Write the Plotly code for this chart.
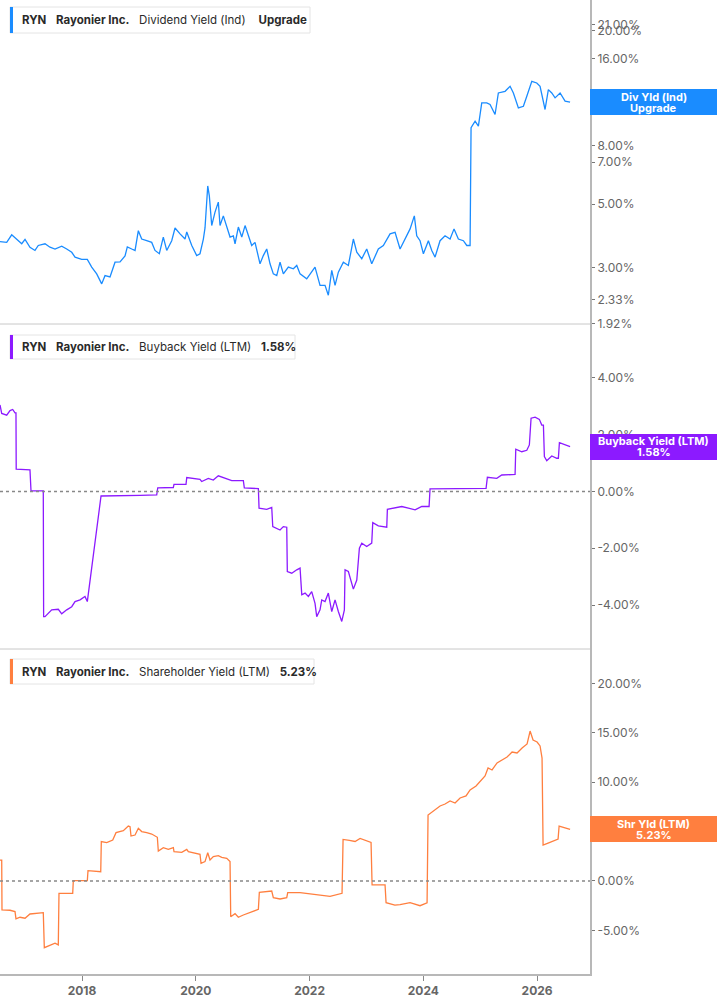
import math
import plotly.graph_objects as go

# ---------------- DATA ----------------
div_year = [2016.558, 2016.676, 2016.764, 2016.852, 2016.940, 2016.998, 2017.085, 2017.173, 2017.231, 2017.349,
            2017.437, 2017.525, 2017.643, 2017.731, 2017.819, 2017.877, 2017.994, 2018.093, 2018.170, 2018.258,
            2018.346, 2018.404, 2018.492, 2018.580, 2018.668, 2018.756, 2018.796, 2018.874, 2018.932, 2018.990,
            2019.049, 2019.137, 2019.225, 2019.283, 2019.359, 2019.429, 2019.489, 2019.577, 2019.635, 2019.723,
            2019.811, 2019.841, 2019.929, 2020.016, 2020.074, 2020.133, 2020.162, 2020.210, 2020.238, 2020.280,
            2020.338, 2020.396, 2020.426, 2020.484, 2020.544, 2020.602, 2020.660, 2020.690, 2020.748, 2020.808,
            2020.866, 2020.924, 2020.983, 2021.041, 2021.129, 2021.187, 2021.247, 2021.305, 2021.363, 2021.423,
            2021.481, 2021.539, 2021.627, 2021.715, 2021.775, 2021.833, 2021.950, 2022.096, 2022.184, 2022.272,
            2022.330, 2022.390, 2022.448, 2022.506, 2022.594, 2022.682, 2022.770, 2022.830, 2022.918, 2023.005,
            2023.093, 2023.209, 2023.297, 2023.415, 2023.503, 2023.591, 2023.679, 2023.767, 2023.842, 2023.884,
            2023.942, 2024.001, 2024.089, 2024.148, 2024.206, 2024.294, 2024.382, 2024.470, 2024.540, 2024.616,
            2024.704, 2024.764, 2024.822, 2024.839, 2024.910, 2024.968, 2025.027, 2025.115, 2025.173, 2025.261,
            2025.319, 2025.437, 2025.525, 2025.583, 2025.671, 2025.759, 2025.819, 2025.907, 2025.994, 2026.052,
            2026.140, 2026.198, 2026.258, 2026.316, 2026.404, 2026.492, 2026.580]
div_yield = [3.70, 3.68, 3.91, 3.78, 3.64, 3.77, 3.54, 3.45, 3.59, 3.64,
             3.54, 3.49, 3.57, 3.49, 3.40, 3.27, 3.21, 3.21, 3.02, 2.86,
             2.64, 2.82, 2.79, 3.14, 3.15, 3.30, 3.55, 3.49, 3.45, 4.04,
             3.78, 3.73, 3.68, 3.45, 3.36, 3.84, 3.45, 3.73, 4.13, 3.94,
             3.78, 4.00, 3.59, 3.31, 3.36, 3.78, 4.13, 5.78, 5.34, 4.21,
             4.69, 5.08, 4.21, 4.55, 4.21, 3.84, 3.88, 3.64, 4.16, 3.84,
             4.21, 3.88, 3.59, 3.68, 3.10, 3.31, 3.49, 3.10, 2.86, 2.82,
             3.14, 2.86, 3.02, 2.98, 3.06, 2.86, 2.75, 3.02, 2.61, 2.61,
             2.41, 2.94, 2.61, 2.90, 3.14, 3.06, 3.78, 3.40, 3.23, 3.49,
             3.10, 3.49, 3.59, 3.94, 3.99, 3.49, 3.78, 4.10, 4.55, 3.88,
             3.73, 3.36, 3.73, 3.45, 3.27, 3.73, 3.88, 3.78, 4.10, 3.78,
             3.73, 3.59, 3.59, 9.21, 9.71, 9.33, 11.24, 11.24, 11.09, 10.24,
             12.17, 12.33, 12.83, 12.17, 10.80, 10.94, 11.85, 13.36, 13.18, 12.83,
             10.66, 12.50, 12.17, 11.70, 12.17, 11.39, 11.30]

bb_year = [2016.558, 2016.588, 2016.676, 2016.734, 2016.781, 2016.822, 2016.839, 2016.843, 2017.085, 2017.103,
           2017.319, 2017.325, 2017.349, 2017.467, 2017.583, 2017.643, 2017.731, 2017.819, 2017.877, 2017.965,
           2018.052, 2018.093, 2018.334, 2018.610, 2019.020, 2019.313, 2019.331, 2019.605, 2019.617, 2019.828,
           2019.841, 2020.074, 2020.104, 2020.220, 2020.308, 2020.396, 2020.544, 2020.632, 2020.836, 2020.853,
           2021.100, 2021.112, 2021.247, 2021.335, 2021.353, 2021.481, 2021.539, 2021.599, 2021.609, 2021.687,
           2021.775, 2021.833, 2021.863, 2021.921, 2021.979, 2022.038, 2022.096, 2022.126, 2022.184, 2022.214,
           2022.272, 2022.330, 2022.390, 2022.448, 2022.506, 2022.566, 2022.612, 2022.624, 2022.682, 2022.770,
           2022.830, 2022.876, 2022.918, 2023.005, 2023.093, 2023.111, 2023.209, 2023.357, 2023.368, 2023.473,
           2023.621, 2023.737, 2023.855, 2023.972, 2024.101, 2024.118, 2024.470, 2025.103, 2025.126, 2025.291,
           2025.379, 2025.525, 2025.613, 2025.625, 2025.731, 2025.819, 2025.864, 2025.894, 2025.965, 2026.040,
           2026.082, 2026.111, 2026.128, 2026.170, 2026.258, 2026.346, 2026.374, 2026.392, 2026.492, 2026.580]
bb_yield = [3.05, 2.75, 2.69, 2.85, 2.89, 2.77, 2.77, 0.79, 0.76, 0.02,
            0.02, -4.41, -4.41, -4.17, -4.15, -4.31, -4.17, -4.06, -3.88, -3.82,
            -3.70, -3.88, -0.16, -0.16, -0.14, -0.12, 0.13, 0.14, 0.25, 0.25,
            0.49, 0.43, 0.35, 0.46, 0.40, 0.55, 0.46, 0.38, 0.38, 0.13,
            0.10, -0.59, -0.63, -0.56, -1.24, -1.36, -1.24, -1.26, -2.82, -2.88,
            -2.76, -2.70, -3.64, -3.58, -3.70, -3.53, -3.94, -4.41, -4.17, -3.82,
            -3.88, -3.58, -4.23, -3.82, -4.23, -4.58, -4.17, -2.76, -2.82, -3.44,
            -3.12, -2.00, -1.82, -1.94, -1.82, -1.10, -1.21, -1.26, -0.63, -0.59,
            -0.53, -0.59, -0.65, -0.53, -0.53, 0.09, 0.09, 0.11, 0.50, 0.46,
            0.58, 0.60, 0.60, 1.49, 1.40, 1.45, 1.64, 2.58, 2.62, 2.54,
            2.34, 2.34, 1.23, 1.08, 1.25, 1.17, 1.17, 1.72, 1.64, 1.58]

sh_year = [2016.558, 2016.588, 2016.593, 2016.734, 2016.822, 2016.839, 2016.910, 2016.998, 2017.085, 2017.203,
           2017.319, 2017.337, 2017.437, 2017.525, 2017.583, 2017.595, 2017.836, 2017.847, 2018.093, 2018.105,
           2018.329, 2018.339, 2018.434, 2018.540, 2018.598, 2018.726, 2018.814, 2018.844, 2018.861, 2018.932,
           2018.990, 2019.049, 2019.137, 2019.225, 2019.324, 2019.341, 2019.429, 2019.517, 2019.605, 2019.617,
           2019.753, 2019.841, 2019.869, 2019.957, 2020.074, 2020.092, 2020.162, 2020.210, 2020.250, 2020.308,
           2020.396, 2020.456, 2020.544, 2020.602, 2020.614, 2020.690, 2020.748, 2020.836, 2020.954, 2021.100,
           2021.117, 2021.335, 2021.363, 2021.481, 2021.599, 2021.616, 2021.833, 2022.100, 2022.360, 2022.571,
           2022.589, 2022.700, 2022.800, 2022.888, 2023.081, 2023.099, 2023.327, 2023.345, 2023.500, 2023.591,
           2023.767, 2023.942, 2024.066,
           2024.083, 2024.154, 2024.224, 2024.294, 2024.382, 2024.470, 2024.558, 2024.646, 2024.751, 2024.822,
           2024.927, 2024.998, 2025.085, 2025.138, 2025.208, 2025.296, 2025.384, 2025.472, 2025.560, 2025.648,
           2025.736, 2025.824, 2025.877, 2025.929, 2026.000, 2026.052, 2026.087, 2026.105, 2026.193, 2026.316,
           2026.369, 2026.387, 2026.492, 2026.580]
sh_yield = [2.12, 2.12, -2.93, -2.96, -3.10, -3.84, -3.67, -3.77, -3.34, -3.30,
            -3.20, -6.75, -6.47, -6.30, -6.47, -1.25, -1.25, 0.03, 0.03, 1.04,
            0.94, 3.98, 3.88, 4.15, 4.89, 5.09, 5.56, 5.50, 4.55, 4.65,
            5.33, 5.00, 4.89, 4.75, 4.42, 3.03, 3.37, 3.20, 3.37, 2.96,
            2.90, 3.20, 2.96, 2.86, 2.70, 1.79, 1.96, 2.86, 2.12, 2.46,
            2.56, 2.39, 2.29, 1.96, -3.61, -3.30, -3.67, -3.44, -3.20, -2.87,
            -1.15, -1.02, -1.69, -1.82, -1.69, -1.18, -1.18, -1.35, -1.55, -1.25,
            4.20, 4.10, 4.00, 4.30, 3.90, -0.40, -0.40, -2.20, -2.45, -2.40,
            -2.20, -2.50, -2.20,
            6.68, 6.98, 7.28, 7.59, 7.79, 8.09, 7.89, 8.40, 8.60, 9.21,
            9.61, 10.02, 10.62, 11.43, 11.23, 11.94, 12.24, 12.54, 13.05, 12.95,
            13.45, 13.86, 15.17, 14.26, 14.06, 13.66, 12.44, 3.64, 3.84, 4.15,
            4.25, 5.56, 5.36, 5.23]

assert len(div_year) == len(div_yield), (len(div_year), len(div_yield))
assert len(bb_year) == len(bb_yield), (len(bb_year), len(bb_yield))
assert len(sh_year) == len(sh_yield), (len(sh_year), len(sh_yield))

x_ticks = [2018, 2020, 2022, 2024, 2026]
div_ticks = [1.92, 2.33, 3, 5, 7, 8, 12, 16, 20, 21]
bb_ticks = [-4, -2, 0, 2, 4]
sh_ticks = [-5, 0, 5, 10, 15, 20]

BLUE = "#1a8cff"
PURPLE = "#8c1aff"
ORANGE = "#ff7f3f"

# ---------------- LAYOUT ----------------
W, HTOT = 717, 1005
ML, MR, MT, MB = 0, 127, 0, 31
PW = W - ML - MR          # 590
PH = HTOT - MT - MB       # 974


def py(px):
    return 1 - px / PH


def pxx(px):
    return px / PW


FONT = "Inter, Roboto, 'Open Sans', sans-serif"
NB = "\u00a0"

fig = go.Figure()
fig.add_trace(go.Scatter(x=div_year, y=div_yield, mode="lines", line=dict(color=BLUE, width=1.3),
                         xaxis="x", yaxis="y", hoverinfo="skip", showlegend=False))
fig.add_trace(go.Scatter(x=bb_year, y=bb_yield, mode="lines", line=dict(color=PURPLE, width=1.3),
                         xaxis="x2", yaxis="y2", hoverinfo="skip", showlegend=False))
fig.add_trace(go.Scatter(x=sh_year, y=sh_yield, mode="lines", line=dict(color=ORANGE, width=1.3),
                         xaxis="x3", yaxis="y3", hoverinfo="skip", showlegend=False))

xr = [2016.558, 2026.93]
yaxis_common = dict(side="right", showline=True, linecolor="#b8b8b8", linewidth=2, ticks="outside",
                    ticklen=3, tickcolor="#777", tickwidth=1, showgrid=False, zeroline=False,
                    tickfont=dict(size=12, color="#666", family=FONT), fixedrange=True)

fig.update_layout(
    width=W, height=HTOT, margin=dict(l=ML, r=MR, t=MT, b=MB, pad=0),
    paper_bgcolor="white", plot_bgcolor="white", font=dict(family=FONT),
    xaxis=dict(anchor="y", domain=[0, 1], range=xr, visible=False, matches="x3"),
    xaxis2=dict(anchor="y2", domain=[0, 1], range=xr, visible=False, matches="x3"),
    xaxis3=dict(anchor="y3", domain=[0, 1], range=xr, showline=True, linecolor="#b8b8b8", linewidth=2,
                ticks="outside", ticklen=5, tickcolor="#888", showgrid=False, zeroline=False,
                tickvals=x_ticks, ticktext=["<b>%d</b>" % t for t in x_ticks],
                tickfont=dict(size=12, color="#666", family=FONT)),
    yaxis=dict(anchor="x", domain=[py(324), 1], type="log",
               range=[math.log10(1.915), 1.4083],
               tickvals=div_ticks, ticktext=["%.2f%%" % v for v in div_ticks], **yaxis_common),
    yaxis2=dict(anchor="x2", domain=[py(649), py(324)], range=[-5.55, 5.90],
                tickvals=bb_ticks, ticktext=["%.2f%%" % v for v in bb_ticks], **yaxis_common),
    yaxis3=dict(anchor="x3", domain=[0, py(649)], range=[-9.41, 23.47],
                tickvals=sh_ticks, ticktext=["%.2f%%" % v for v in sh_ticks], **yaxis_common),
)

shapes = []
# panel separators
for sep in (324, 649):
    shapes.append(dict(type="line", xref="paper", yref="paper", x0=0, x1=1, y0=py(sep), y1=py(sep),
                       line=dict(color="#c8c8c8", width=1)))
# zero lines
for yr in ("y2", "y3"):
    shapes.append(dict(type="line", xref="paper", yref=yr, x0=0, x1=1, y0=0, y1=0,
                       line=dict(color="#888", width=1.5, dash="dot")))

SP = NB * 3
legends = [
    ("<b>RYN</b>" + SP + "<b>Rayonier Inc.</b>" + SP + "Dividend Yield (Ind)" + SP + NB + "<b>Upgrade</b>",
     BLUE, 7, 33, 310),
    ("<b>RYN</b>" + SP + "<b>Rayonier Inc.</b>" + SP + "Buyback Yield (LTM)" + SP + "<b>%.2f%%</b>" % bb_yield[-1],
     PURPLE, 335, 359, 295),
    ("<b>RYN</b>" + SP + "<b>Rayonier Inc.</b>" + SP + "Shareholder Yield (LTM)" + SP + "<b>%.2f%%</b>" % sh_yield[-1],
     ORANGE, 659, 684, 314),
]
annotations = []
for text, col, top, bot, right in legends:
    shapes.append(dict(type="rect", xref="paper", yref="paper", x0=pxx(10), x1=pxx(right),
                       y0=py(bot), y1=py(top), fillcolor="white", line=dict(color="#e4e4e4", width=1),
                       layer="above"))
    shapes.append(dict(type="rect", xref="paper", yref="paper", x0=pxx(10), x1=pxx(13),
                       y0=py(bot), y1=py(top), fillcolor=col, line=dict(width=0), layer="above"))
    annotations.append(dict(xref="paper", yref="paper", x=pxx(20), y=py((top + bot) / 2),
                            xanchor="left", yanchor="middle", showarrow=False, text=text,
                            font=dict(size=11.5, color="#2a2a2a", family=FONT)))

# right-hand value labels: coloured box + two centred text lines
labels = [
    ("Div Yld (Ind)", "Upgrade", BLUE, "y", math.log10(div_yield[-1])),
    ("Buyback Yield (LTM)", "%.2f%%" % bb_yield[-1], PURPLE, "y2", bb_yield[-1]),
    ("Shr Yld (LTM)", "%.2f%%" % sh_yield[-1], ORANGE, "y3", sh_yield[-1]),
]
for l1, l2, col, yr, yv in labels:
    annotations.append(dict(xref="paper", yref=yr, x=1, y=yv, xanchor="left", yanchor="middle",
                            showarrow=False, text=NB, bgcolor=col, width=127, height=26, borderpad=0,
                            borderwidth=0, font=dict(size=11, color=col)))
    for txt, shift in ((l1, 5.5), (l2, -5.5)):
        annotations.append(dict(xref="paper", yref=yr, x=1 + pxx(63.5), y=yv, xanchor="center",
                                yanchor="middle", yshift=shift, showarrow=False, text="<b>%s</b>" % txt,
                                font=dict(size=11, color="white", family=FONT)))

fig.update_layout(shapes=shapes, annotations=annotations)
fig.write_html("out.html")
